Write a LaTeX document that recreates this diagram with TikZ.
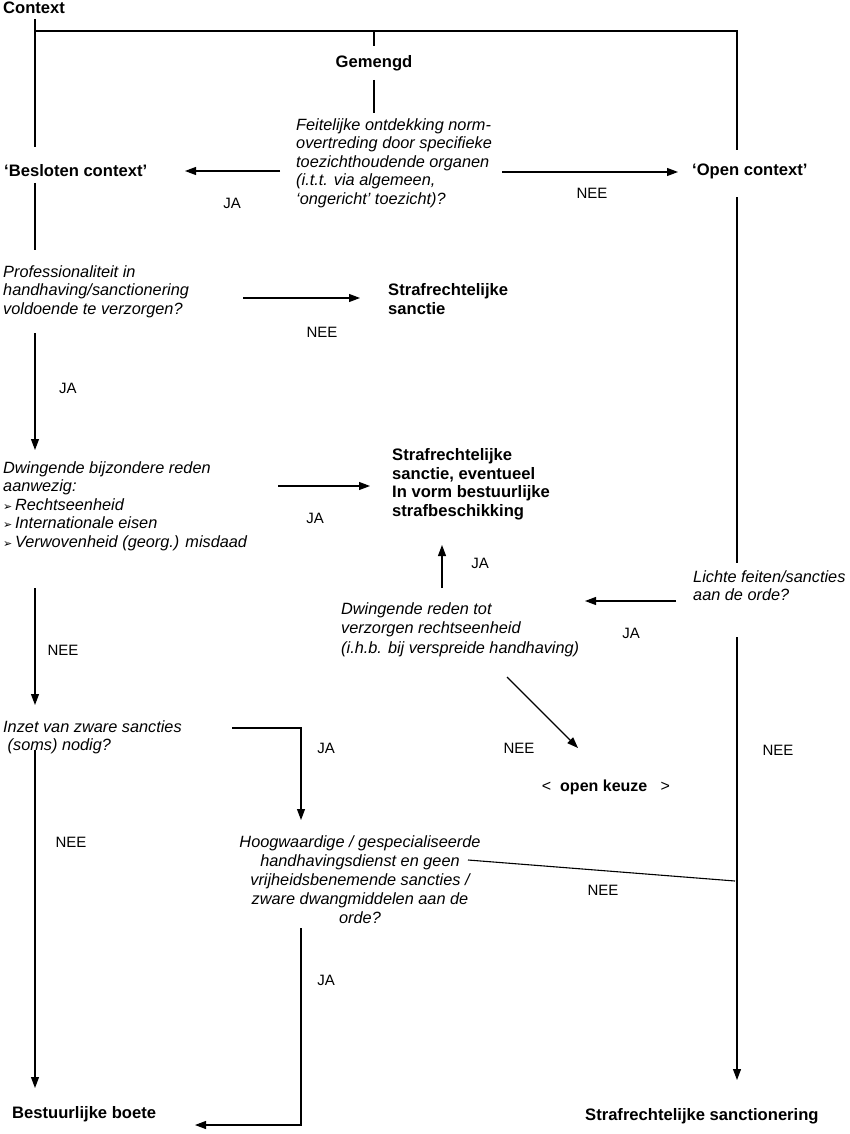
\documentclass[tikz,border=0pt]{standalone}
\usepackage{fontspec}
\setmainfont{Liberation Sans}
\newfontfamily\dejavu{DejaVu Sans}
\usetikzlibrary{arrows.meta}
\newcommand{\bul}{{\dejavu\upshape\fontsize{11}{11}\selectfont ➢}\,}
\begin{document}
\begin{tikzpicture}[x=1pt,y=-1pt,
  every node/.style={inner sep=0pt, font=\fontsize{16}{18.5}\selectfont},
  ln/.style={line width=1.1pt},
  arr/.style={ln,-{Triangle[length=11pt,width=8pt]}},
  qtext/.style={font=\fontsize{16.3}{18.5}\selectfont\itshape, align=left, anchor=north west},
  btext/.style={font=\fontsize{16.6}{18.8}\selectfont\bfseries, align=left},
  lbl/.style={font=\fontsize{15}{15}\selectfont}
]
\useasboundingbox (0,0) rectangle (850,1134);

% ---------- nodes ----------
\node[btext, anchor=west] (ctx) at (3,8) {Context};
\node[btext] (gem) at (374,63) {Gemengd};
\node[qtext] (q1) at (296,118) {Feitelijke ontdekking norm-\\overtreding door specifieke\\toezichthoudende organen\\(i.t.t. via algemeen,\\‘ongericht’ toezicht)?};
\node[btext, anchor=west] (besl) at (4,171) {‘Besloten context’};
\node[btext, anchor=west] (open) at (692,171) {‘Open context’};
\node[qtext] (q2) at (3,265) {Professionaliteit in\\handhaving/sanctionering\\voldoende te verzorgen?};
\node[btext, anchor=north west] (s1) at (388,283) {Strafrechtelijke\\sanctie};
\node[qtext] (q3) at (3,461) {Dwingende bijzondere reden\\aanwezig:\\\bul Rechtseenheid\\\bul Internationale eisen\\\bul Verwovenheid (georg.) misdaad};
\node[btext, anchor=north west] (s2) at (392,448) {Strafrechtelijke\\sanctie, eventueel\\In vorm bestuurlijke\\strafbeschikking};
\node[qtext] (q4) at (693,570) {Lichte feiten/sancties\\aan de orde?};
\node[qtext, font=\fontsize{16.3}{19.5}\selectfont\itshape] (q5) at (341,602) {Dwingende reden tot\\verzorgen rechtseenheid\\(i.h.b. bij verspreide handhaving)};
\node[qtext] (q6) at (3,720) {Inzet van zware sancties\\\ (soms) nodig?};
\node[font=\fontsize{16.3}{19}\selectfont\itshape, align=center, anchor=north] (q7) at (360,835) {Hoogwaardige / gespecialiseerde\\handhavingsdienst en geen\\vrijheidsbenemende sancties /\\zware dwangmiddelen aan de\\orde?};
\node (keuze) at (606,787) {<\ \ \textbf{open keuze}\ \ \ >};
\node[btext, anchor=west] (boete) at (12,1114) {Bestuurlijke boete};
\node[btext, anchor=west] (sanc) at (585,1116) {Strafrechtelijke sanctionering};

% labels
\node[lbl] (l1) at (232,203) {JA};
\node[lbl] (l2) at (592,193) {NEE};
\node[lbl] (l3) at (322,332) {NEE};
\node[lbl] (l4) at (68,388) {JA};
\node[lbl] (l5) at (315,518) {JA};
\node[lbl] (l6) at (480,563) {JA};
\node[lbl] (l7) at (631,633) {JA};
\node[lbl] (l8) at (63,650) {NEE};
\node[lbl] (l9) at (519,748) {NEE};
\node[lbl] (l10) at (778,750) {NEE};
\node[lbl] (l11) at (326,748) {JA};
\node[lbl] (l12) at (71,842) {NEE};
\node[lbl] (l13) at (603,890) {NEE};
\node[lbl] (l14) at (326,980) {JA};

% ---------- connector coordinates ----------
\coordinate (ctxdown) at (35,19);
\coordinate (beslup) at (35,147);
\coordinate (hl) at (35,31);
\coordinate (hm) at (374,31);
\coordinate (hr) at (737,31);
\coordinate (openup) at (737,150);
\coordinate (gemup) at (374,46);
\coordinate (gemdown) at (374,80);
\coordinate (q1up) at (374,113);
\coordinate (q1left) at (280,171);
\coordinate (beslright) at (185,171);
\coordinate (q1right) at (502,172);
\coordinate (openleft) at (678,172);
\coordinate (besldown) at (35,183);
\coordinate (q2up) at (35,250);
\coordinate (opendown) at (737,197);
\coordinate (q4up) at (737,563);
\coordinate (q2right) at (243,298);
\coordinate (s1left) at (360,298);
\coordinate (q2down) at (35,333);
\coordinate (q3up) at (35,450);
\coordinate (q3right) at (278,486);
\coordinate (s2left) at (370,486);
\coordinate (q5up) at (442,588);
\coordinate (s2down) at (442,545);
\coordinate (q4left) at (676,601);
\coordinate (q5right) at (585,601);
\coordinate (q4down) at (737,637);
\coordinate (sancup) at (737,1080);
\coordinate (q5down) at (507,677);
\coordinate (keuzeup) at (578,748);
\coordinate (q3down) at (35,588);
\coordinate (q6up) at (35,705);
\coordinate (q6right) at (232,728);
\coordinate (q6corner) at (301,728);
\coordinate (q7up) at (301,820);
\coordinate (q6down) at (35,750);
\coordinate (boeteup) at (35,1088);
\coordinate (q7right) at (468,860);
\coordinate (nee) at (735,881);
\coordinate (q7down) at (301,928);
\coordinate (q7corner) at (301,1125);
\coordinate (boeteright) at (195,1125);

% ---------- connectors ----------
\draw[ln] (ctxdown) -- (beslup);
\draw[ln] (hl) -- (hr) -- (openup);
\draw[ln] (hm) -- (gemup);
\draw[ln] (gemdown) -- (q1up);
\draw[arr] (q1left) -- (beslright);
\draw[arr] (q1right) -- (openleft);
\draw[ln] (besldown) -- (q2up);
\draw[ln] (opendown) -- (q4up);
\draw[arr] (q2right) -- (s1left);
\draw[arr] (q2down) -- (q3up);
\draw[arr] (q3right) -- (s2left);
\draw[arr] (q5up) -- (s2down);
\draw[arr] (q4left) -- (q5right);
\draw[arr] (q4down) -- (sancup);
\draw[arr] (q5down) -- (keuzeup);
\draw[arr] (q3down) -- (q6up);
\draw[arr] (q6right) -- (q6corner) -- (q7up);
\draw[arr] (q6down) -- (boeteup);
\draw[ln] (q7right) -- (nee);
\draw[arr] (q7down) -- (q7corner) -- (boeteright);
\end{tikzpicture}
\end{document}
